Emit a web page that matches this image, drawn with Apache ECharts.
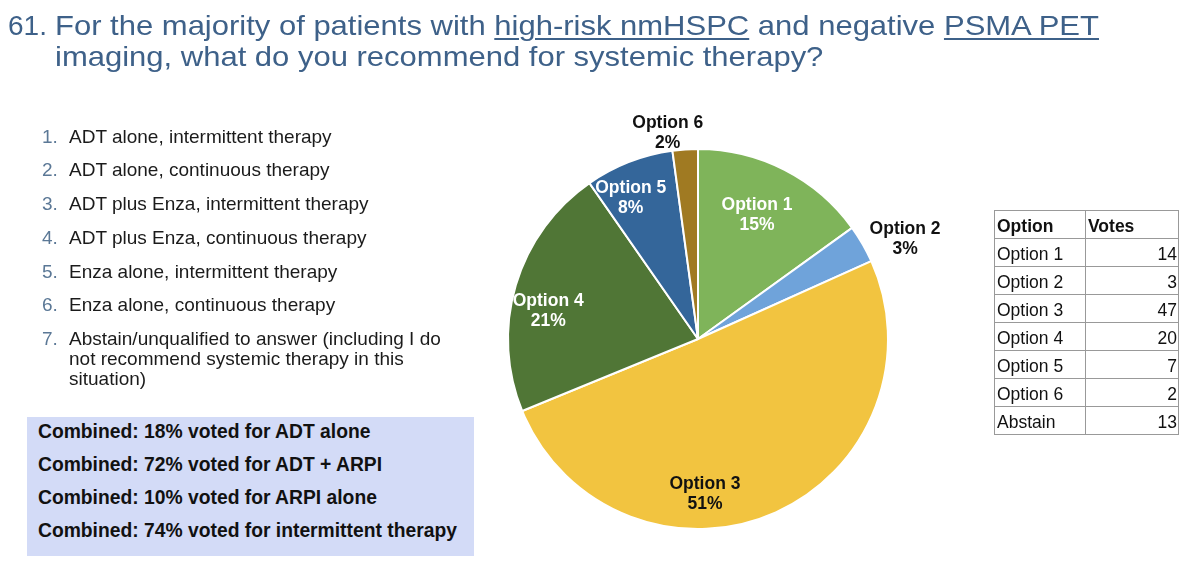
<!DOCTYPE html>
<html>
<head>
<meta charset="utf-8">
<script src="https://cdn.jsdelivr.net/npm/echarts@6/dist/echarts.min.js"></script>
<style>
  body { margin:0; width:1200px; height:569px; background:#fff; overflow:hidden; position:relative;
         font-family:"Liberation Sans", Arial, sans-serif; }
  #chart { position:absolute; left:0; top:0; width:1200px; height:569px; }
  .title { position:absolute; font-size:28px; line-height:31px; color:#3E6189; white-space:nowrap;
           transform:scaleX(1.107); transform-origin:0 0; }
  .title.no { transform:none; }
  .title u { text-decoration-thickness:2px; text-underline-offset:3px; }
  .item { position:absolute; left:42px; font-size:19px; line-height:20px; color:#1b1b1b; }
  .item .num { position:absolute; left:0; color:#5B7896; }
  .item .txt { position:absolute; left:27px; width:390px; }
  #combined { position:absolute; left:27px; top:417px; width:447px; height:139px; background:#D3DBF7; }
  #combined div { position:absolute; left:11px; font-size:19.3px; font-weight:bold; color:#111; white-space:nowrap; line-height:20px; }
  #votes { position:absolute; left:994px; top:210px; border-collapse:collapse; font-size:17.5px; color:#111; }
  #votes td { border:1px solid #999; height:24px; padding:0 1px 3px 2px; vertical-align:bottom; line-height:17px; }
  #votes td.c1 { width:87px; }
  #votes td.n { width:89px; text-align:right; }
  #votes tr.h td { font-weight:bold; text-align:left; }
</style>
</head>
<body>
<div id="chart"></div>
<div class="title no" style="left:8px;top:10px">61.</div>
<div class="title" style="left:55px;top:10px">For the majority of patients with <u>high-risk nmHSPC</u> and negative <u>PSMA PET</u></div>
<div class="title" style="left:55px;top:41px">imaging, what do you recommend for systemic therapy?</div>
<div id="answers"></div>
<div id="combined"></div>
<table id="votes"></table>
<script>
// pie data: votes per option (abstain is only in the table)
const optionNames = ['Option 1', 'Option 2', 'Option 3', 'Option 4', 'Option 5', 'Option 6'];
const optionVotes = [14, 3, 47, 20, 7, 2];
const abstainVotes = 13;

const answerTexts = [
  'ADT alone, intermittent therapy',
  'ADT alone, continuous therapy',
  'ADT plus Enza, intermittent therapy',
  'ADT plus Enza, continuous therapy',
  'Enza alone, intermittent therapy',
  'Enza alone, continuous therapy',
  'Abstain/unqualified to answer (including I do not recommend systemic therapy in this situation)'
];

const combinedNotes = [
  'Combined: 18% voted for ADT alone',
  'Combined: 72% voted for ADT + ARPI',
  'Combined: 10% voted for ARPI alone',
  'Combined: 74% voted for intermittent therapy'
];

// styling
const sliceColors = ['#7FB45A', '#6FA3DA', '#F2C440', '#507636', '#34669A', '#A07A22'];
const labelColors = ['#fff', '#111', '#111', '#fff', '#fff', '#111'];
const labelRadius = [0.74, 1.21, 0.8, 0.8, 0.83, 1.11];
const labelShift = { 0: [-5, 1], 1: [8, 15], 2: [-53, 15], 3: [-4, 15], 4: [-10, 6], 5: [-16, 5] };
const CX = 698, CY = 339, R = 190;

// left list
const ans = document.getElementById('answers');
answerTexts.forEach((t, i) => {
  const d = document.createElement('div');
  d.className = 'item';
  d.style.top = (126.7 + 33.7 * i).toFixed(1) + 'px';
  d.innerHTML = '<span class="num">' + (i + 1) + '.</span><span class="txt"></span>';
  d.querySelector('.txt').textContent = t;
  ans.appendChild(d);
});

// combined box
const box = document.getElementById('combined');
combinedNotes.forEach((t, i) => {
  const d = document.createElement('div');
  d.style.top = (5.4 + 33 * i) + 'px';
  d.textContent = t;
  box.appendChild(d);
});

// votes table
const tbl = document.getElementById('votes');
let rows = '<tr class="h"><td class="c1">Option</td><td class="n">Votes</td></tr>';
optionNames.forEach((n, i) => { rows += '<tr><td class="c1">' + n + '</td><td class="n">' + optionVotes[i] + '</td></tr>'; });
rows += '<tr><td class="c1">Abstain</td><td class="n">' + abstainVotes + '</td></tr>';
tbl.innerHTML = rows;

const total = optionVotes.reduce((a, b) => a + b, 0);
function midAngle(i) {
  let s = 0;
  for (let k = 0; k < i; k++) s += optionVotes[k];
  return (s + optionVotes[i] / 2) / total * Math.PI * 2;
}

const chart = echarts.init(document.getElementById('chart'));
chart.setOption({
  animation: false,
  series: [{
    type: 'pie',
    center: [CX, CY],
    radius: R,
    startAngle: 90,
    clockwise: true,
    avoidLabelOverlap: false,
    percentPrecision: 0,
    itemStyle: { borderColor: '#fff', borderWidth: 2 },
    label: {
      formatter: '{b}\n{d}%',
      fontFamily: 'Liberation Sans',
      fontSize: 17.5,
      fontWeight: 'bold',
      lineHeight: 20
    },
    labelLine: { show: false },
    labelLayout: function (p) {
      const a = midAngle(p.dataIndex);
      const r = labelRadius[p.dataIndex] * R;
      const sh = labelShift[p.dataIndex] || [0, 0];
      return {
        x: CX + r * Math.sin(a) + sh[0],
        y: CY - r * Math.cos(a) + sh[1],
        align: 'center',
        verticalAlign: 'middle'
      };
    },
    data: optionNames.map((n, i) => ({
      name: n,
      value: optionVotes[i],
      itemStyle: { color: sliceColors[i] },
      label: { color: labelColors[i], position: labelRadius[i] > 1 ? 'outside' : 'inside' }
    }))
  }]
});
</script>
</body>
</html>
